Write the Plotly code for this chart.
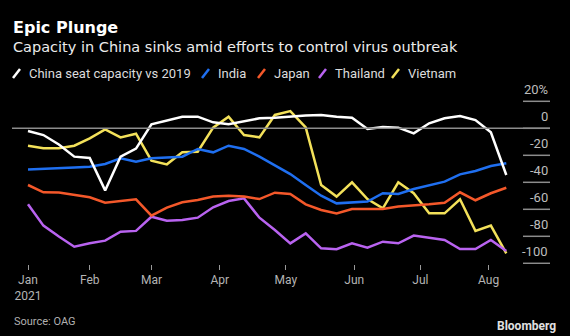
import pandas as pd
import plotly.graph_objects as go

# Weekly seat capacity vs 2019 (%), week starting Mondays from 4 Jan 2021
dates = pd.date_range("2021-01-04", periods=32, freq="7D")

china = [-2, -5, -12, -21, -22, -46, -21, -15, 3, 6, 8.6, 8.6, 4.4, 3, 5.4, 7.4,
         7.9, 8.9, 9.4, 9.9, 8.6, 7.9, -0.5, 1, 0.5, -3.7, 3.7, 7.4, 9.1, 6.1, -3, -34.6]
india = [-30.6, -30.2, -29.6, -29.1, -28.4, -26.4, -22.2, -24.7, -22.2, -21.7, -21, -15.3,
         -17.8, -12.9, -15.3, -21, -27.7, -33.9, -42, -49.9, -55.6, -54.8, -54.3, -48.1,
         -48.7, -45, -42.5, -39.5, -34.1, -31.6, -27.9, -25.9]
japan = [-42, -47.4, -47.6, -49.4, -51.1, -55.1, -53.9, -52.6, -64.7, -58.8, -54.8, -53.1,
         -50.6, -49.9, -50.6, -52.4, -47.7, -48.7, -56.3, -60.5, -63, -59.8, -59.8, -59.8,
         -58, -57.3, -56.3, -55.1, -47.4, -53.3, -48.1, -44]
thailand = [-56.3, -72.1, -80.2, -87.7, -85.2, -83.2, -76.6, -76, -65.5, -68.4, -68, -66.2,
            -58.5, -53.9, -51.9, -66.2, -75.3, -85.2, -77.8, -88.9, -89.6, -85.2, -88.4, -84,
            -85.2, -79.5, -81, -82.7, -89.4, -89.4, -82.7, -90.9]
vietnam = [-12.9, -14.8, -14.8, -12.9, -7.4, -0.8, -6.7, -4, -24, -26.7, -17.8, -17.4,
           0.5, 8.6, -5, -6.7, 9.9, 12.8, 0.7, -42, -50.6, -40, -52.4, -59.3,
           -40, -48.1, -63, -63, -52.6, -76, -72.1, -92.6]

series_names = ["China seat capacity vs 2019", "India", "Japan", "Thailand", "Vietnam"]
series_values = [china, india, japan, thailand, vietnam]
series_colors = ["#ffffff", "#1f6ff0", "#f4582a", "#b963f0", "#f3e15a"]

y_ticks = [20, 0, -20, -40, -60, -80, -100]
y_ticklabels = ["20%", "0", "-20", "-40", "-60", "-80", "-100"]
x_tickvals = [dates[0]] + list(pd.date_range("2021-02-01", periods=7, freq="MS"))
x_ticktext = ["Jan<br>2021", "Feb", "Mar", "Apr", "May", "Jun", "Jul", "Aug"]

W, H = 570, 336
FONT = "Roboto"
HEAD_FONT = "DejaVu Sans"


def px(x):
    return x / W


def py(y):
    return 1 - y / H


fig = go.Figure()

# Draw in reverse so the China line sits on top
for name, vals, col in reversed(list(zip(series_names, series_values, series_colors))):
    fig.add_trace(go.Scatter(x=dates, y=vals, mode="lines", name=name,
                             line=dict(color=col, width=2.5), showlegend=False))

shapes = []
annotations = []

# Zero reference line across the chart
shapes.append(dict(type="line", xref="paper", yref="y", x0=px(12), x1=px(550), y0=0, y1=0,
                   line=dict(color="#8c8c8c", width=1.5)))

# Right-hand value axis: short rules with labels sitting above them
for v, lab in zip(y_ticks, y_ticklabels):
    shapes.append(dict(type="line", xref="paper", yref="y", x0=px(523), x1=px(550), y0=v, y1=v,
                       line=dict(color="#8c8c8c", width=1.5)))
    annotations.append(dict(xref="paper", yref="y", x=px(550), y=v, yshift=12, text=lab,
                            showarrow=False, xanchor="right", yanchor="middle",
                            font=dict(family=FONT, size=13, color="#bdbdbd")))

# Title block
annotations.append(dict(xref="paper", yref="paper", x=px(11), y=py(27), text="<b>Epic Plunge</b>",
                        showarrow=False, xanchor="left", yanchor="middle",
                        font=dict(family=HEAD_FONT, size=16, color="#ffffff")))
annotations.append(dict(xref="paper", yref="paper", x=px(11), y=py(47),
                        text="Capacity in China sinks amid efforts to control virus outbreak",
                        showarrow=False, xanchor="left", yanchor="middle",
                        font=dict(family=HEAD_FONT, size=14.5, color="#ececec")))

# Legend with slanted colour keys
legend_x = [13, 202, 258, 319, 392]
for name, col, lx in zip(series_names, series_colors, legend_x):
    shapes.append(dict(type="line", xref="paper", yref="paper", x0=px(lx), y0=py(78),
                       x1=px(lx + 7), y1=py(69), line=dict(color=col, width=2.5)))
    annotations.append(dict(xref="paper", yref="paper", x=px(lx + 14), y=py(73.5), text=name,
                            showarrow=False, xanchor="left", yanchor="middle",
                            font=dict(family=FONT, size=13, color="#dcdcdc")))

# Footer
annotations.append(dict(xref="paper", yref="paper", x=px(12), y=py(321), text="Source: OAG",
                        showarrow=False, xanchor="left", yanchor="middle",
                        font=dict(family=FONT, size=11, color="#b0b0b0")))
annotations.append(dict(xref="paper", yref="paper", x=px(558), y=py(326), text="<b>Bloomberg</b>",
                        showarrow=False, xanchor="right", yanchor="middle",
                        font=dict(family=FONT, size=12, color="#e0e0e0")))

y_bottom, y_top = 264, 90
zero_px, scale = 128.3, 1.35
fig.update_layout(
    width=W, height=H,
    margin=dict(l=0, r=0, t=0, b=0),
    paper_bgcolor="#000000", plot_bgcolor="#000000",
    shapes=shapes, annotations=annotations,
    xaxis=dict(domain=[px(12), px(550)],
               range=[pd.Timestamp("2021-01-04") - pd.Timedelta(days=16 / 2.204),
                      pd.Timestamp("2021-08-09") + pd.Timedelta(days=43.7 / 2.204)],
               tickvals=x_tickvals, ticktext=x_ticktext,
               ticks="outside", ticklen=5, tickwidth=1, tickcolor="#9a9a9a",
               showgrid=False, zeroline=False, showline=False,
               tickfont=dict(family=FONT, size=12, color="#b4b4b4")),
    yaxis=dict(domain=[py(y_bottom), py(y_top)],
               range=[(zero_px - y_bottom) / scale, (zero_px - y_top) / scale],
               visible=False, showgrid=False, zeroline=False),
)

fig.write_html("out.html")
